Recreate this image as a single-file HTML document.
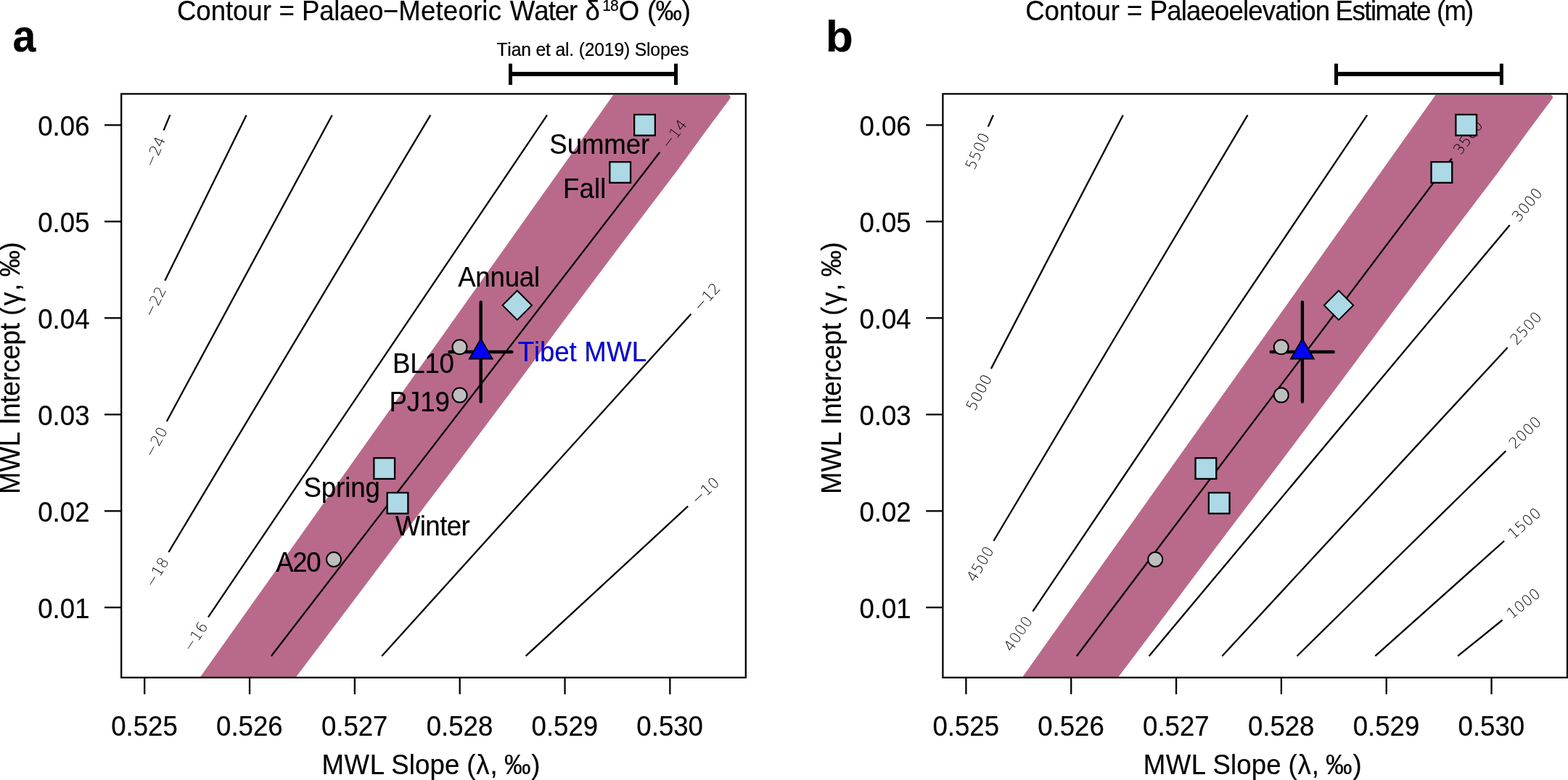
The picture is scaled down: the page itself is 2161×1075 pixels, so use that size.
<!DOCTYPE html>
<html lang="en"><head><meta charset="utf-8"><title>MWL slope and intercept contours</title>
<style>html,body{margin:0;padding:0;background:#fff}body{width:2161px;height:1075px;overflow:hidden}svg{display:block}text{font-family:"Liberation Sans",sans-serif;font-kerning:none;white-space:pre;stroke:currentColor;stroke-width:.2px;stroke-linejoin:round}.h{font-family:"DejaVu Sans Light","DejaVu Sans","Liberation Sans",sans-serif;font-weight:200;stroke:none;letter-spacing:.25px}</style></head><body>
<svg width="2161" height="1075" viewBox="0 0 2161 1075">
<defs><clipPath id="clipa"><rect x="167.2" y="129.4" width="860.6" height="804.4"/></clipPath><clipPath id="clipb"><rect x="1299.4" y="129.4" width="860.6" height="804.4"/></clipPath></defs>
<rect width="2161" height="1075" fill="#fff"/>
<g clip-path="url(#clipa)"><polygon points="273.87,936 405.82,936 482,835 557.1,735 633,635 708,535 782.3,435 857.4,335 931.8,237 971.8,182 1005.7,136.4 1006.7,134.9 1006.7,133.4 1005.6,131.7 1003.6,130.8 845.3,130.8" fill="#b96a8b"/></g>
<line x1="234.4" y1="158.4" x2="225.5" y2="179.6" stroke="#000" stroke-width="2.3"/>
<line x1="339.6" y1="158.7" x2="227.3" y2="386.8" stroke="#000" stroke-width="2.3"/>
<line x1="457.7" y1="158.7" x2="229.8" y2="580.7" stroke="#000" stroke-width="2.3"/>
<line x1="593.3" y1="158.7" x2="232.4" y2="761" stroke="#000" stroke-width="2.3"/>
<line x1="754" y1="158.7" x2="286.9" y2="850.7" stroke="#000" stroke-width="2.3"/>
<line x1="909.3" y1="209.7" x2="373.8" y2="904.2" stroke="#000" stroke-width="2.3"/>
<line x1="952.4" y1="432.8" x2="526.2" y2="904.2" stroke="#000" stroke-width="2.3"/>
<line x1="948.2" y1="697.7" x2="724.6" y2="904.2" stroke="#000" stroke-width="2.3"/>
<text transform="translate(213.11,209.11) rotate(-67.23)" x="0.12" y="7.45" font-size="20.4" text-anchor="middle" class="h">−24</text>
<text transform="translate(213.17,415.51) rotate(-63.79)" x="0.12" y="7.45" font-size="20.4" text-anchor="middle" class="h">−22</text>
<text transform="translate(214.59,608.86) rotate(-61.63)" x="0.12" y="7.45" font-size="20.4" text-anchor="middle" class="h">−20</text>
<text transform="translate(215.95,788.45) rotate(-59.07)" x="0.12" y="7.45" font-size="20.4" text-anchor="middle" class="h">−18</text>
<text transform="translate(269,877.22) rotate(-55.98)" x="0.12" y="7.45" font-size="20.4" text-anchor="middle" class="h">−16</text>
<text transform="translate(928.84,184.36) rotate(-52.37)" x="0.12" y="7.45" font-size="20.4" text-anchor="middle" class="h">−14</text>
<text transform="translate(973.86,409.06) rotate(-47.88)" x="0.12" y="7.45" font-size="20.4" text-anchor="middle" class="h">−12</text>
<text transform="translate(971.71,675.99) rotate(-42.72)" x="0.12" y="7.45" font-size="20.4" text-anchor="middle" class="h">−10</text>
<rect x="874.15" y="157.95" width="28.7" height="28.7" fill="#add8e6" stroke="#000" stroke-width="2.3"/>
<rect x="840.35" y="223.15" width="28.7" height="28.7" fill="#add8e6" stroke="#000" stroke-width="2.3"/>
<rect x="515.35" y="631.25" width="28.7" height="28.7" fill="#add8e6" stroke="#000" stroke-width="2.3"/>
<rect x="533.65" y="679.05" width="28.7" height="28.7" fill="#add8e6" stroke="#000" stroke-width="2.3"/>
<line x1="662.7" y1="416.5" x2="662.7" y2="553.6" stroke="#000" stroke-width="4.4" stroke-linecap="round"/>
<line x1="619.5" y1="485" x2="705.5" y2="485" stroke="#000" stroke-width="4.4" stroke-linecap="round"/>
<polygon points="662.7,466.9 678.6,494.5 646.8,494.5" fill="#0000ff" stroke="#000" stroke-width="1.9"/>
<circle cx="633.5" cy="478.3" r="10" fill="#bebebe" stroke="#000" stroke-width="2"/>
<circle cx="633.6" cy="544.6" r="10" fill="#bebebe" stroke="#000" stroke-width="2"/>
<circle cx="460" cy="771" r="10" fill="#bebebe" stroke="#000" stroke-width="2"/>
<polygon points="692.6,420.7 712.8,400.5 733,420.7 712.8,440.9" fill="#add8e6" stroke="#000" stroke-width="2"/>
<rect x="167.2" y="129.4" width="860.6" height="804.4" fill="none" stroke="#000" stroke-width="2.3"/>
<line x1="199.2" y1="933.8" x2="199.2" y2="956.8" stroke="#000" stroke-width="2.3"/>
<line x1="344.03" y1="933.8" x2="344.03" y2="956.8" stroke="#000" stroke-width="2.3"/>
<line x1="488.86" y1="933.8" x2="488.86" y2="956.8" stroke="#000" stroke-width="2.3"/>
<line x1="633.69" y1="933.8" x2="633.69" y2="956.8" stroke="#000" stroke-width="2.3"/>
<line x1="778.52" y1="933.8" x2="778.52" y2="956.8" stroke="#000" stroke-width="2.3"/>
<line x1="923.35" y1="933.8" x2="923.35" y2="956.8" stroke="#000" stroke-width="2.3"/>
<line x1="167.2" y1="837.2" x2="144" y2="837.2" stroke="#000" stroke-width="2.3"/>
<line x1="167.2" y1="704.3" x2="144" y2="704.3" stroke="#000" stroke-width="2.3"/>
<line x1="167.2" y1="571.3" x2="144" y2="571.3" stroke="#000" stroke-width="2.3"/>
<line x1="167.2" y1="438.3" x2="144" y2="438.3" stroke="#000" stroke-width="2.3"/>
<line x1="167.2" y1="305.3" x2="144" y2="305.3" stroke="#000" stroke-width="2.3"/>
<line x1="167.2" y1="172.4" x2="144" y2="172.4" stroke="#000" stroke-width="2.3"/>
<text transform="translate(153.22,1014.0) scale(1,1.045)" font-size="36.6" letter-spacing="0">0.525</text>
<text transform="translate(298.05,1014.0) scale(1,1.045)" font-size="36.6" letter-spacing="0">0.526</text>
<text transform="translate(442.88,1014.0) scale(1,1.045)" font-size="36.6" letter-spacing="0">0.527</text>
<text transform="translate(587.71,1014.0) scale(1,1.045)" font-size="36.6" letter-spacing="0">0.528</text>
<text transform="translate(732.54,1014.0) scale(1,1.045)" font-size="36.6" letter-spacing="0">0.529</text>
<text transform="translate(877.37,1014.0) scale(1,1.045)" font-size="36.6" letter-spacing="0">0.530</text>
<text transform="translate(52.27,851.8) scale(1,1.045)" font-size="36.6" letter-spacing="0">0.01</text>
<text transform="translate(52.27,718.9) scale(1,1.045)" font-size="36.6" letter-spacing="0">0.02</text>
<text transform="translate(52.27,585.9) scale(1,1.045)" font-size="36.6" letter-spacing="0">0.03</text>
<text transform="translate(52.27,452.9) scale(1,1.045)" font-size="36.6" letter-spacing="0">0.04</text>
<text transform="translate(52.27,319.9) scale(1,1.045)" font-size="36.6" letter-spacing="0">0.05</text>
<text transform="translate(52.27,187) scale(1,1.045)" font-size="36.6" letter-spacing="0">0.06</text>
<text transform="translate(0,1066.9) scale(1,1.04)" font-size="36.6"><tspan x="443.5" letter-spacing="0.56">MWL</tspan> <tspan x="539.24" letter-spacing="0.12">Slope</tspan> <tspan x="643.23" letter-spacing="0.95">(λ,</tspan> <tspan x="694.92" letter-spacing="0.86">‰)</tspan></text>
<text transform="translate(27,0) rotate(-90) scale(1,1.04)" font-size="36.6"><tspan x="-681.1" letter-spacing="0.31">MWL</tspan> <tspan x="-585.58" letter-spacing="-0.25">Intercept</tspan> <tspan x="-434.97" letter-spacing="1.7">(γ,</tspan> <tspan x="-381.48" letter-spacing="-0.84">‰)</tspan></text>
<text transform="translate(0,27.8) scale(1,1.04)" font-size="36.6"><tspan x="243.94" letter-spacing="-0.04">Contour</tspan> <tspan x="384.51">=</tspan> <tspan x="416.1" letter-spacing="-0.32">Palaeo</tspan><tspan x="528.1">−</tspan><tspan x="549.3" letter-spacing="0.19">Meteoric</tspan> <tspan x="702.84" letter-spacing="-1.04">Water</tspan> <tspan x="806.56">δ</tspan><tspan x="830.3" letter-spacing="-0.95" font-size="21" dy="-12">18</tspan><tspan x="852.77" dy="12">O</tspan> <tspan x="891.93" letter-spacing="-0.52">(‰)</tspan></text>
<text transform="translate(17.4,71.3) scale(0.915,1.005)" font-size="62.5" font-weight="bold">a</text>
<text transform="translate(0,212.2) scale(1,1.04)" font-size="36.6"><tspan x="757.34" letter-spacing="-0.08">Summer</tspan></text>
<text transform="translate(0,272.5) scale(1,1.04)" font-size="36.6"><tspan x="775.9" letter-spacing="0.16">Fall</tspan></text>
<text transform="translate(0,395) scale(1,1.04)" font-size="36.6"><tspan x="631.13" letter-spacing="-0.19">Annual</tspan></text>
<text transform="translate(0,513.9) scale(1,1.04)" font-size="36.6"><tspan x="541" letter-spacing="-0.18">BL10</tspan></text>
<text transform="translate(0,567.4) scale(1,1.04)" font-size="36.6"><tspan x="536.4" letter-spacing="0.04">PJ19</tspan></text>
<text transform="translate(0,684.6) scale(1,1.04)" font-size="36.6"><tspan x="418.54" letter-spacing="-0.1">Spring</tspan></text>
<text transform="translate(0,737.7) scale(1,1.04)" font-size="36.6"><tspan x="544.84" letter-spacing="-0.57">Winter</tspan></text>
<text transform="translate(0,787.9) scale(1,1.04)" font-size="36.6"><tspan x="380.33" letter-spacing="-1.41">A20</tspan></text>
<text transform="translate(0,497.7) scale(1,1.04)" font-size="36.6" fill="#0000e6"><tspan x="713.78" letter-spacing="-0.09">Tibet</tspan> <tspan x="805.2" letter-spacing="0.26">MWL</tspan></text>
<rect x="703.5" y="99" width="228" height="6" fill="#000"/>
<rect x="701" y="87.7" width="5" height="29.3" fill="#000"/>
<rect x="929" y="87.7" width="5" height="29.3" fill="#000"/>
<text transform="translate(0,77.2) scale(1,1.04)" font-size="24.7"><tspan x="684.45" letter-spacing="-0.17">Tian et al. (2019) Slopes</tspan></text>
<g clip-path="url(#clipb)"><polygon points="1407.17,936 1539.12,936 1615.3,835 1690.4,735 1766.3,635 1841.3,535 1915.6,435 1990.7,335 2065.1,237 2105.1,182 2139,136.4 2140,134.9 2140,133.4 2138.9,131.7 2136.9,130.8 1978.6,130.8" fill="#b96a8b"/></g>
<line x1="1368.9" y1="158.7" x2="1361.8" y2="174.6" stroke="#000" stroke-width="2.3"/>
<line x1="1547.7" y1="158.7" x2="1365.9" y2="508.1" stroke="#000" stroke-width="2.3"/>
<line x1="1719.5" y1="158.7" x2="1369.4" y2="745.5" stroke="#000" stroke-width="2.3"/>
<line x1="1884.2" y1="158.7" x2="1423.4" y2="842.7" stroke="#000" stroke-width="2.3"/>
<line x1="2000.8" y1="218.5" x2="1483.9" y2="904.2" stroke="#000" stroke-width="2.3"/>
<line x1="2080.7" y1="310.2" x2="1583.6" y2="904.2" stroke="#000" stroke-width="2.3"/>
<line x1="2077.7" y1="479" x2="1684.3" y2="904.2" stroke="#000" stroke-width="2.3"/>
<line x1="2075.2" y1="621.6" x2="1787.5" y2="904.2" stroke="#000" stroke-width="2.3"/>
<line x1="2073.1" y1="745.5" x2="1895.3" y2="904.2" stroke="#000" stroke-width="2.3"/>
<line x1="2070.6" y1="854.5" x2="2009.1" y2="904.2" stroke="#000" stroke-width="2.3"/>
<text transform="translate(1346.8,208.2) rotate(-65.94)" x="0.12" y="7.45" font-size="20.4" text-anchor="middle" class="h">5500</text>
<text transform="translate(1348.91,540.75) rotate(-62.51)" x="0.12" y="7.45" font-size="20.4" text-anchor="middle" class="h">5000</text>
<text transform="translate(1350.55,777.1) rotate(-59.18)" x="0.12" y="7.45" font-size="20.4" text-anchor="middle" class="h">4500</text>
<text transform="translate(1402.84,873.22) rotate(-56.03)" x="0.12" y="7.45" font-size="20.4" text-anchor="middle" class="h">4000</text>
<text transform="translate(2022.95,189.11) rotate(-52.99)" x="0.12" y="7.45" font-size="20.4" text-anchor="middle" class="h">3500</text>
<text transform="translate(2104.32,281.98) rotate(-50.08)" x="0.12" y="7.45" font-size="20.4" text-anchor="middle" class="h">3000</text>
<text transform="translate(2102.69,451.99) rotate(-47.22)" x="0.12" y="7.45" font-size="20.4" text-anchor="middle" class="h">2500</text>
<text transform="translate(2101.45,595.81) rotate(-44.49)" x="0.12" y="7.45" font-size="20.4" text-anchor="middle" class="h">2000</text>
<text transform="translate(2100.55,720.99) rotate(-41.75)" x="0.12" y="7.45" font-size="20.4" text-anchor="middle" class="h">1500</text>
<text transform="translate(2099.22,831.37) rotate(-38.94)" x="0.12" y="7.45" font-size="20.4" text-anchor="middle" class="h">1000</text>
<rect x="2006.35" y="157.95" width="28.7" height="28.7" fill="#add8e6" stroke="#000" stroke-width="2.3"/>
<rect x="1972.55" y="223.15" width="28.7" height="28.7" fill="#add8e6" stroke="#000" stroke-width="2.3"/>
<rect x="1647.55" y="631.25" width="28.7" height="28.7" fill="#add8e6" stroke="#000" stroke-width="2.3"/>
<rect x="1665.85" y="679.05" width="28.7" height="28.7" fill="#add8e6" stroke="#000" stroke-width="2.3"/>
<line x1="1794.9" y1="416.5" x2="1794.9" y2="553.6" stroke="#000" stroke-width="4.4" stroke-linecap="round"/>
<line x1="1751.7" y1="485" x2="1837.7" y2="485" stroke="#000" stroke-width="4.4" stroke-linecap="round"/>
<polygon points="1794.9,466.9 1810.8,494.5 1779,494.5" fill="#0000ff" stroke="#000" stroke-width="1.9"/>
<circle cx="1765.7" cy="478.3" r="10" fill="#bebebe" stroke="#000" stroke-width="2"/>
<circle cx="1765.8" cy="544.6" r="10" fill="#bebebe" stroke="#000" stroke-width="2"/>
<circle cx="1592.2" cy="771" r="10" fill="#bebebe" stroke="#000" stroke-width="2"/>
<polygon points="1824.8,420.7 1845,400.5 1865.2,420.7 1845,440.9" fill="#add8e6" stroke="#000" stroke-width="2"/>
<rect x="1299.4" y="129.4" width="860.6" height="804.4" fill="none" stroke="#000" stroke-width="2.3"/>
<line x1="1331.4" y1="933.8" x2="1331.4" y2="956.8" stroke="#000" stroke-width="2.3"/>
<line x1="1476.23" y1="933.8" x2="1476.23" y2="956.8" stroke="#000" stroke-width="2.3"/>
<line x1="1621.06" y1="933.8" x2="1621.06" y2="956.8" stroke="#000" stroke-width="2.3"/>
<line x1="1765.89" y1="933.8" x2="1765.89" y2="956.8" stroke="#000" stroke-width="2.3"/>
<line x1="1910.72" y1="933.8" x2="1910.72" y2="956.8" stroke="#000" stroke-width="2.3"/>
<line x1="2055.55" y1="933.8" x2="2055.55" y2="956.8" stroke="#000" stroke-width="2.3"/>
<line x1="1299.4" y1="837.2" x2="1276.2" y2="837.2" stroke="#000" stroke-width="2.3"/>
<line x1="1299.4" y1="704.3" x2="1276.2" y2="704.3" stroke="#000" stroke-width="2.3"/>
<line x1="1299.4" y1="571.3" x2="1276.2" y2="571.3" stroke="#000" stroke-width="2.3"/>
<line x1="1299.4" y1="438.3" x2="1276.2" y2="438.3" stroke="#000" stroke-width="2.3"/>
<line x1="1299.4" y1="305.3" x2="1276.2" y2="305.3" stroke="#000" stroke-width="2.3"/>
<line x1="1299.4" y1="172.4" x2="1276.2" y2="172.4" stroke="#000" stroke-width="2.3"/>
<text transform="translate(1285.42,1014.0) scale(1,1.045)" font-size="36.6" letter-spacing="0">0.525</text>
<text transform="translate(1430.25,1014.0) scale(1,1.045)" font-size="36.6" letter-spacing="0">0.526</text>
<text transform="translate(1575.08,1014.0) scale(1,1.045)" font-size="36.6" letter-spacing="0">0.527</text>
<text transform="translate(1719.91,1014.0) scale(1,1.045)" font-size="36.6" letter-spacing="0">0.528</text>
<text transform="translate(1864.74,1014.0) scale(1,1.045)" font-size="36.6" letter-spacing="0">0.529</text>
<text transform="translate(2009.57,1014.0) scale(1,1.045)" font-size="36.6" letter-spacing="0">0.530</text>
<text transform="translate(1184.47,851.8) scale(1,1.045)" font-size="36.6" letter-spacing="0">0.01</text>
<text transform="translate(1184.47,718.9) scale(1,1.045)" font-size="36.6" letter-spacing="0">0.02</text>
<text transform="translate(1184.47,585.9) scale(1,1.045)" font-size="36.6" letter-spacing="0">0.03</text>
<text transform="translate(1184.47,452.9) scale(1,1.045)" font-size="36.6" letter-spacing="0">0.04</text>
<text transform="translate(1184.47,319.9) scale(1,1.045)" font-size="36.6" letter-spacing="0">0.05</text>
<text transform="translate(1184.47,187) scale(1,1.045)" font-size="36.6" letter-spacing="0">0.06</text>
<text transform="translate(0,1066.9) scale(1,1.04)" font-size="36.6"><tspan x="1575.7" letter-spacing="0.56">MWL</tspan> <tspan x="1671.44" letter-spacing="0.12">Slope</tspan> <tspan x="1775.43" letter-spacing="0.95">(λ,</tspan> <tspan x="1827.12" letter-spacing="0.86">‰)</tspan></text>
<text transform="translate(1159.2,0) rotate(-90) scale(1,1.04)" font-size="36.6"><tspan x="-681.1" letter-spacing="0.31">MWL</tspan> <tspan x="-585.58" letter-spacing="-0.25">Intercept</tspan> <tspan x="-434.97" letter-spacing="1.7">(γ,</tspan> <tspan x="-381.48" letter-spacing="-0.84">‰)</tspan></text>
<text transform="translate(0,27.8) scale(1,1.04)" font-size="36.6"><tspan x="1413.14" letter-spacing="-0.06">Contour</tspan> <tspan x="1553.11">=</tspan> <tspan x="1584.7" letter-spacing="-0.85">Palaeoelevation</tspan> <tspan x="1840.6" letter-spacing="-1.52">Estimate</tspan> <tspan x="1980.13" letter-spacing="-1.86">(m)</tspan></text>
<text transform="translate(1137.7,71.2) scale(0.995,0.99)" font-size="62.5" font-weight="bold">b</text>
<rect x="1841.5" y="99" width="227.9" height="6" fill="#000"/>
<rect x="1839" y="87.7" width="5" height="29.3" fill="#000"/>
<rect x="2066.9" y="87.7" width="5" height="29.3" fill="#000"/>
</svg></body></html>
